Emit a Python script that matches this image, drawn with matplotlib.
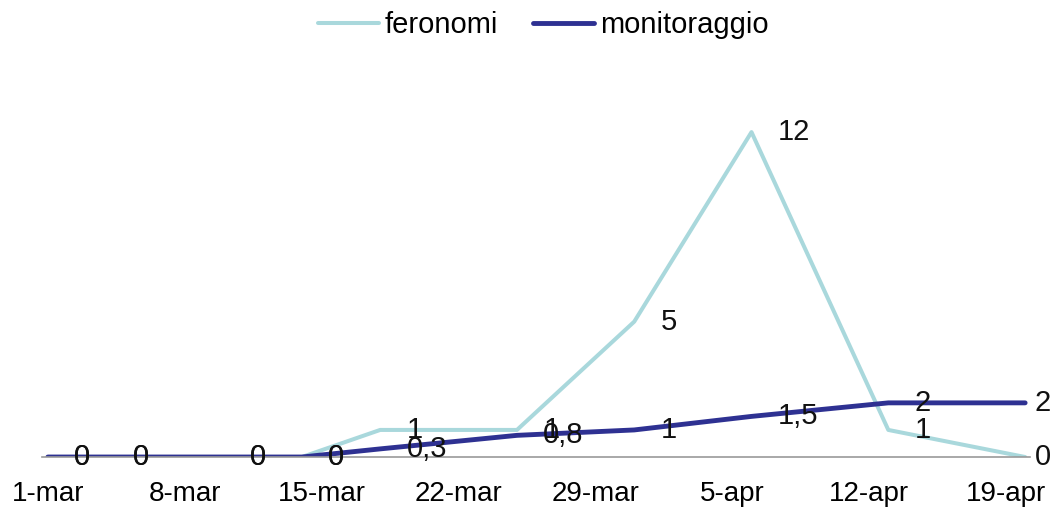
import matplotlib
matplotlib.use("Agg")
import matplotlib.pyplot as plt
import matplotlib.dates as mdates
import numpy as np

plt.rcParams['font.family'] = ['Liberation Sans', 'DejaVu Sans']

# sampling dates
dates = ['2011-03-01', '2011-03-04', '2011-03-10', '2011-03-14', '2011-03-18',
         '2011-03-25', '2011-03-31', '2011-04-06', '2011-04-13', '2011-04-20']
# catches
feronomi = [0, 0, 0, 0, 1, 1, 5, 12, 1, 0]
monitoraggio = [0, 0, 0, 0, 0.3, 0.8, 1, 1.5, 2, 2]

# x axis labels
tick_dates = ['2011-03-01', '2011-03-08', '2011-03-15', '2011-03-22',
              '2011-03-29', '2011-04-05', '2011-04-12', '2011-04-19']
tick_labels = ['1-mar', '8-mar', '15-mar', '22-mar', '29-mar', '5-apr', '12-apr', '19-apr']

x = mdates.datestr2num(dates)
xt = mdates.datestr2num(tick_dates)


def fmt(v):
    # italian decimal comma
    if v == int(v):
        return str(int(v))
    return ('%.1f' % v).replace('.', ',')


fig = plt.figure(figsize=(10.61, 5.12), dpi=100)
ax = fig.add_axes([0.0396, 0.1074, 0.9312, 0.7403])

ax.plot(x, feronomi, color='#A9D8DC', lw=2.9, label='feronomi', solid_capstyle='round')
ax.plot(x, monitoraggio, color='#2E3192', lw=3.5, label='monitoraggio', solid_capstyle='round')

# data labels (last one pulled in so it stays inside the picture)
for serie in [feronomi, monitoraggio]:
    for i, (xi, v) in enumerate(zip(x, serie)):
        dx = 7 if i == len(x) - 1 else 19
        ax.annotate(fmt(v), (xi, v), xytext=(dx, 0), textcoords='offset points',
                    ha='left', va='center', fontsize=21, color='#111111')

ax.set_xlim(x[0] - 0.3, x[-1] + 0.25)
ax.set_ylim(0, 14)
ax.set_xticks(xt)
ax.set_xticklabels(tick_labels, fontsize=20)
ax.set_yticks([])
ax.tick_params(axis='x', length=0, pad=17)

for s in ['top', 'right', 'left']:
    ax.spines[s].set_visible(False)
ax.spines['bottom'].set_color('#999999')
ax.spines['bottom'].set_linewidth(1.2)

fig.legend(loc='upper center', bbox_to_anchor=(0.512, 1.03), ncol=2, frameon=False,
           fontsize=21, handlelength=2.1, handletextpad=0.2, columnspacing=1.2)

fig.savefig('out.png', dpi=100)
